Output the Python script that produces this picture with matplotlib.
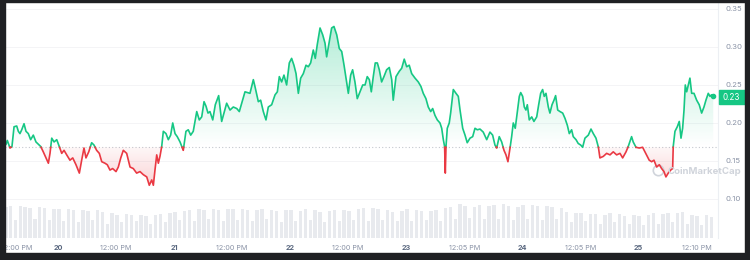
import numpy as np
import matplotlib
matplotlib.use("Agg")
import matplotlib.pyplot as plt
from matplotlib.patches import Rectangle
from matplotlib.path import Path

plt.rcParams['font.family'] = ['Inter', 'DejaVu Sans']

# price trace: time in days (day-of-month, fractional) and price in USD
times = [
    19.552, 19.563, 19.586, 19.603, 19.621, 19.644, 19.658, 19.672, 19.687, 19.707,
    19.724, 19.744, 19.764, 19.787, 19.810, 19.830, 19.851, 19.873, 19.897, 19.917,
    19.931, 19.946, 19.966, 19.989, 20.011, 20.032, 20.052, 20.075, 20.103, 20.127,
    20.155, 20.184, 20.204, 20.224, 20.241, 20.265, 20.290, 20.310, 20.333, 20.356,
    20.377, 20.405, 20.425, 20.448, 20.471, 20.500, 20.520, 20.541, 20.563, 20.592,
    20.621, 20.649, 20.678, 20.707, 20.735, 20.765, 20.787, 20.808, 20.822, 20.836,
    20.851, 20.865, 20.879, 20.894, 20.908, 20.931, 20.951, 20.971, 20.989, 21.009,
    21.028, 21.052, 21.080, 21.103, 21.123, 21.144, 21.166, 21.196, 21.218, 21.239,
    21.259, 21.276, 21.293, 21.310, 21.334, 21.356, 21.385, 21.411, 21.431, 21.454,
    21.483, 21.511, 21.541, 21.563, 21.584, 21.612, 21.655, 21.684, 21.698, 21.727,
    21.747, 21.770, 21.793, 21.813, 21.842, 21.871, 21.891, 21.908, 21.928, 21.948,
    21.971, 21.994, 22.014, 22.034, 22.052, 22.072, 22.092, 22.115, 22.138, 22.158,
    22.178, 22.201, 22.218, 22.235, 22.259, 22.282, 22.302, 22.316, 22.339, 22.359,
    22.379, 22.403, 22.425, 22.446, 22.466, 22.483, 22.503, 22.523, 22.540, 22.560,
    22.580, 22.603, 22.627, 22.647, 22.666, 22.684, 22.701, 22.718, 22.735, 22.753,
    22.770, 22.790, 22.810, 22.833, 22.856, 22.877, 22.890, 22.914, 22.942, 22.963,
    22.985, 23.006, 23.028, 23.049, 23.078, 23.106, 23.129, 23.149, 23.172, 23.192,
    23.213, 23.230, 23.250, 23.270, 23.293, 23.308, 23.322, 23.333, 23.339, 23.345,
    23.356, 23.373, 23.385, 23.408, 23.431, 23.451, 23.466, 23.489, 23.509, 23.528,
    23.552, 23.575, 23.595, 23.615, 23.638, 23.666, 23.696, 23.724, 23.747, 23.767,
    23.782, 23.804, 23.825, 23.845, 23.862, 23.879, 23.897, 23.911, 23.925, 23.942,
    23.960, 23.977, 23.989, 24.006, 24.020, 24.034, 24.046, 24.063, 24.084, 24.103,
    24.127, 24.144, 24.161, 24.178, 24.192, 24.207, 24.227, 24.241, 24.259, 24.276,
    24.290, 24.308, 24.328, 24.351, 24.371, 24.391, 24.408, 24.428, 24.442, 24.466,
    24.485, 24.506, 24.523, 24.543, 24.572, 24.595, 24.615, 24.638, 24.658, 24.672,
    24.701, 24.730, 24.759, 24.787, 24.816, 24.845, 24.868, 24.897, 24.916, 24.945,
    24.959, 24.983, 25.011, 25.040, 25.060, 25.080, 25.097, 25.118, 25.138, 25.161,
    25.184, 25.204, 25.224, 25.241, 25.261, 25.282, 25.299, 25.304, 25.319, 25.339,
    25.356, 25.371, 25.385, 25.397, 25.408, 25.420, 25.434, 25.448, 25.463, 25.483,
    25.506, 25.528, 25.549, 25.569, 25.586, 25.606, 25.621, 25.634, 25.649,
]
prices = [
    0.172, 0.177, 0.167, 0.169, 0.195, 0.196, 0.189, 0.186, 0.191, 0.199,
    0.189, 0.186, 0.178, 0.184, 0.175, 0.172, 0.169, 0.162, 0.154, 0.147,
    0.160, 0.180, 0.175, 0.178, 0.169, 0.160, 0.164, 0.158, 0.151, 0.154,
    0.145, 0.134, 0.151, 0.167, 0.154, 0.162, 0.174, 0.171, 0.164, 0.160,
    0.149, 0.147, 0.145, 0.138, 0.140, 0.136, 0.142, 0.154, 0.164, 0.160,
    0.142, 0.140, 0.134, 0.136, 0.132, 0.129, 0.118, 0.125, 0.118, 0.138,
    0.158, 0.147, 0.156, 0.169, 0.189, 0.186, 0.178, 0.184, 0.200, 0.186,
    0.182, 0.175, 0.164, 0.189, 0.191, 0.184, 0.189, 0.215, 0.204, 0.208,
    0.228, 0.222, 0.213, 0.215, 0.204, 0.224, 0.236, 0.202, 0.213, 0.226,
    0.217, 0.221, 0.219, 0.215, 0.226, 0.241, 0.239, 0.257, 0.248, 0.228,
    0.230, 0.215, 0.204, 0.221, 0.224, 0.237, 0.241, 0.261, 0.254, 0.263,
    0.250, 0.279, 0.285, 0.276, 0.265, 0.239, 0.259, 0.265, 0.276, 0.274,
    0.279, 0.296, 0.285, 0.303, 0.325, 0.316, 0.305, 0.287, 0.307, 0.325,
    0.327, 0.316, 0.298, 0.294, 0.276, 0.259, 0.239, 0.263, 0.270, 0.254,
    0.232, 0.241, 0.250, 0.250, 0.261, 0.257, 0.241, 0.261, 0.279, 0.279,
    0.270, 0.254, 0.261, 0.270, 0.273, 0.257, 0.230, 0.261, 0.268, 0.272,
    0.284, 0.274, 0.276, 0.265, 0.259, 0.254, 0.248, 0.239, 0.232, 0.221,
    0.215, 0.219, 0.210, 0.204, 0.200, 0.193, 0.178, 0.169, 0.134, 0.169,
    0.193, 0.200, 0.213, 0.244, 0.239, 0.235, 0.217, 0.193, 0.184, 0.174,
    0.180, 0.182, 0.193, 0.191, 0.192, 0.188, 0.178, 0.188, 0.184, 0.171,
    0.167, 0.182, 0.175, 0.164, 0.158, 0.149, 0.167, 0.182, 0.200, 0.193,
    0.215, 0.235, 0.240, 0.235, 0.221, 0.217, 0.224, 0.204, 0.208, 0.202,
    0.208, 0.224, 0.239, 0.244, 0.235, 0.239, 0.221, 0.213, 0.224, 0.230,
    0.236, 0.217, 0.215, 0.213, 0.206, 0.197, 0.186, 0.191, 0.182, 0.178,
    0.173, 0.171, 0.168, 0.180, 0.184, 0.192, 0.186, 0.180, 0.169, 0.154,
    0.156, 0.160, 0.158, 0.162, 0.158, 0.160, 0.154, 0.162, 0.169, 0.182,
    0.175, 0.168, 0.167, 0.168, 0.162, 0.156, 0.151, 0.149, 0.151, 0.142,
    0.145, 0.140, 0.136, 0.129, 0.134, 0.138, 0.140, 0.169, 0.189, 0.195,
    0.202, 0.180, 0.193, 0.217, 0.250, 0.241, 0.250, 0.259, 0.239, 0.239,
    0.230, 0.224, 0.213, 0.221, 0.230, 0.239, 0.235, 0.237, 0.235,
]
base_price = 0.168
last_label = "0.23"

# hourly volume bars (millions), starting 19th ~13:00
vol_start = 19.55
volumes = [
    30, 31, 17, 31, 30, 29, 18, 30, 29, 17, 28,
    28, 16, 28, 27, 15, 27, 26, 17, 27, 25, 14, 24, 22, 15, 23, 22, 16, 22, 21, 14, 22, 23, 15, 24,
    25, 17, 26, 27, 16, 28, 27, 18, 28, 27, 16, 28, 28, 17, 28, 27, 16, 27, 28, 18, 27, 26, 15, 27,
    27, 16, 26, 28, 17, 27, 25, 15, 26, 27, 16, 27, 26, 17, 28, 29, 16, 29, 28, 17, 27, 25, 16, 26,
    28, 16, 27, 26, 17, 26, 27, 16, 29, 30, 18, 33, 31, 19, 30, 32, 18, 31, 32, 18, 33, 31, 17, 30,
    32, 18, 32, 31, 17, 31, 30, 18, 29, 25, 15, 24, 24, 16, 23, 23, 14, 22, 24, 15, 23, 21, 14, 22,
    21, 13, 22, 24, 14, 23, 24, 15, 24, 25, 14, 22, 21, 13, 22, 20,
]

day_ticks = [20, 21, 22, 23, 24, 25]
day_labels = ["20", "21", "22", "23", "24", "25"]
time_ticks = [19.647, 20.5, 21.5, 22.5, 23.503, 24.503, 25.507]
time_labels = ["12:00 PM", "12:00 PM", "12:00 PM", "12:00 PM", "12:05 PM", "12:05 PM", "12:10 PM"]
y_ticks = [0.10, 0.15, 0.20, 0.25, 0.30, 0.35]

GREEN = "#16c784"
RED = "#ea3943"

t = np.array(times)
v = np.array(prices)

# insert the crossings with the base price so colours switch exactly there
tt, vv = [t[0]], [v[0]]
for i in range(1, len(t)):
    if (v[i - 1] - base_price) * (v[i] - base_price) < 0:
        f = (base_price - v[i - 1]) / (v[i] - v[i - 1])
        tt.append(t[i - 1] + f * (t[i] - t[i - 1]))
        vv.append(base_price)
    tt.append(t[i])
    vv.append(v[i])
tt = np.array(tt)
vv = np.array(vv)

W, H = 750, 260
fig = plt.figure(figsize=(7.5, 2.6), dpi=100, facecolor="white")
rect = [5 / W, 22 / H, 713 / W, 236 / H]
xlim = (19.543, 25.69)
ylim = (0.0486, 0.3592)

# volume axis behind
axv = fig.add_axes(rect)
vt = vol_start + np.arange(len(volumes)) / 24
axv.bar(vt, volumes, width=0.7 / 24, color="#e8eaee", linewidth=0)
axv.set_xlim(xlim)
axv.set_ylim(0, 228)
axv.axis("off")

ax = fig.add_axes(rect)
ax.patch.set_alpha(0)
ax.set_xlim(xlim)
ax.set_ylim(ylim)

for y in y_ticks:
    ax.axhline(y, color="#f2f3f5", lw=0.6, zorder=0)
ax.axhline(base_price, color="#c4c8cf", lw=0.8, ls=(0, (1, 2)), zorder=1)

# gradient fills
green_poly = ax.fill_between(tt, vv, base_price, where=vv >= base_price, interpolate=True,
                             color="none", lw=0)
red_poly = ax.fill_between(tt, vv, base_price, where=vv <= base_price, interpolate=True,
                           color="none", lw=0)
vmax, vmin = vv.max(), vv.min()
g = np.zeros((256, 1, 4))
g[..., :3] = matplotlib.colors.to_rgb(GREEN)
g[:, 0, 3] = np.linspace(0.32, 0.0, 256)
im = ax.imshow(g, extent=[xlim[0], xlim[1], base_price, vmax], aspect="auto",
               origin="upper", zorder=1)
im.set_clip_path(Path.make_compound_path(*green_poly.get_paths()), transform=ax.transData)
r = np.zeros((256, 1, 4))
r[..., :3] = matplotlib.colors.to_rgb(RED)
r[:, 0, 3] = np.linspace(0.04, 0.22, 256)
im2 = ax.imshow(r, extent=[xlim[0], xlim[1], vmin, base_price], aspect="auto",
                origin="upper", zorder=1)
im2.set_clip_path(Path.make_compound_path(*red_poly.get_paths()), transform=ax.transData)

ax.plot(tt, np.where(vv >= base_price, vv, np.nan), color=GREEN, lw=1.2, zorder=3,
        solid_joinstyle="round")
ax.plot(tt, np.where(vv <= base_price, vv, np.nan), color=RED, lw=1.2, zorder=3,
        solid_joinstyle="round")
ax.plot(t[-1], v[-1], "o", color=GREEN, ms=3, zorder=4)

# axes styling
for s in ["top", "left", "bottom"]:
    ax.spines[s].set_visible(False)
ax.spines["right"].set_color("#eceff3")
ax.spines["right"].set_linewidth(0.8)
ax.yaxis.tick_right()
ax.set_yticks(y_ticks)
ax.set_yticklabels([f"{y:.2f}" for y in y_ticks])
ax.tick_params(axis="y", length=0, pad=5.5, labelsize=5.6, labelcolor="#8a93a6")

ax.set_xticks(time_ticks + day_ticks)
ax.set_xticklabels(time_labels + day_labels)
ax.tick_params(axis="x", length=0, pad=5, labelsize=5.2)
for lab in ax.get_xticklabels():
    if lab.get_text().isdigit():
        lab.set_fontweight("bold")
        lab.set_color("#58667e")
    else:
        lab.set_color("#8a93a6")

# watermark
ax.plot(25.171, 0.138, "o", ms=7.5, mfc="none", mec="#d0d4db", mew=1.2, clip_on=False, zorder=2)
fig.text(668 / W, 1 - 171 / H, "CoinMarketCap", fontsize=6.9, color="#d0d4db",
         ha="left", va="center", fontweight="bold")

# last price tag
fig.add_artist(Rectangle((719 / W, 1 - 104 / H), 26 / W, 14 / H, transform=fig.transFigure,
                         color=GREEN, zorder=5))
fig.text(731 / W, 1 - 97 / H, last_label, fontsize=5.8, color="white",
         ha="center", va="center", zorder=6)

# dark frame around the screenshot
dark = "#1f2023"
for (x0, y0, w, h) in [(0, 0, 5, H), (745, 0, 5, H), (0, 0, W, 7), (0, H - 2, W, 2)]:
    fig.add_artist(Rectangle((x0 / W, y0 / H), w / W, h / H, transform=fig.transFigure,
                             color=dark, zorder=10))

fig.savefig("out.png", dpi=100, facecolor="white")
